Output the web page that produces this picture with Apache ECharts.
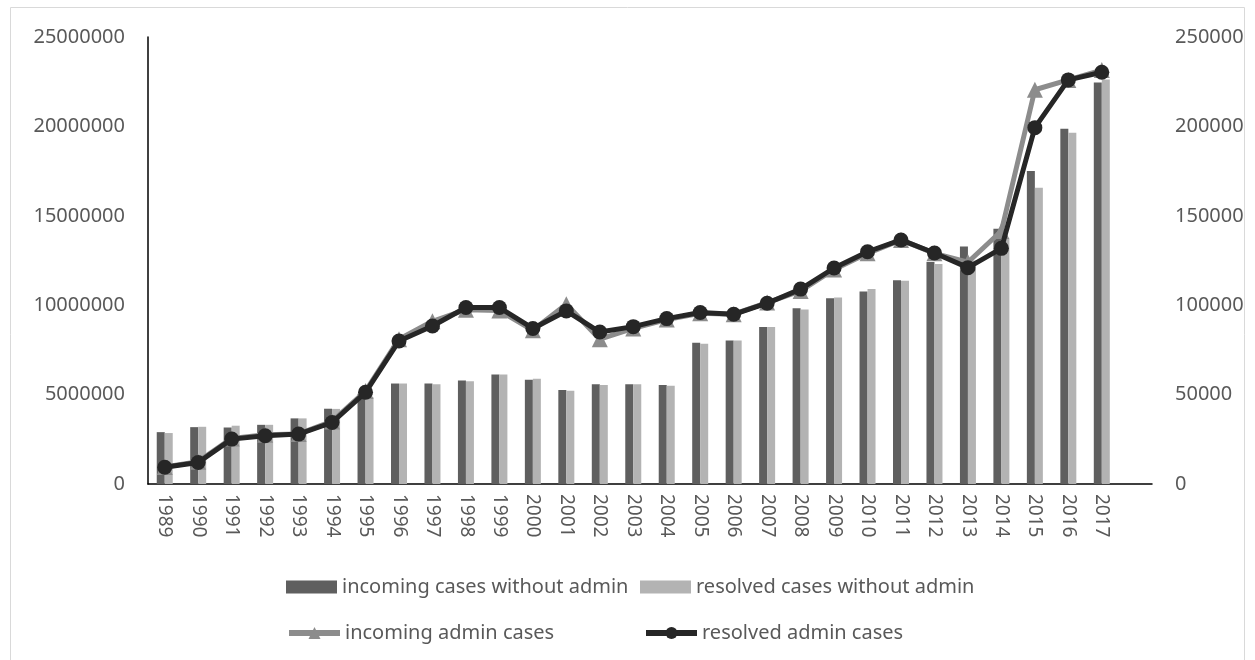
<!DOCTYPE html>
<html>
<head>
<meta charset="utf-8">
<script src="https://cdn.jsdelivr.net/npm/echarts@6/dist/echarts.min.js"></script>
<style>
  html, body { margin: 0; padding: 0; background: #fff; }
  #chart { width: 1255px; height: 660px; }
</style>
</head>
<body>
<div id="chart"></div>
<script>
// years (last slot is an empty category, as in the source sheet)
const years = ['1989', '1990', '1991', '1992', '1993', '1994', '1995', '1996', '1997', '1998',
  '1999', '2000', '2001', '2002', '2003', '2004', '2005', '2006', '2007', '2008',
  '2009', '2010', '2011', '2012', '2013', '2014', '2015', '2016', '2017', ''];

// left axis
const incomingNoAdmin = [2900000, 3180000, 3160000, 3310000, 3670000, 4210000, 5050000, 5620000, 5620000, 5790000,
  6120000, 5830000, 5260000, 5580000, 5580000, 5540000, 7900000, 8030000, 8780000, 9830000,
  10390000, 10770000, 11400000, 12420000, 13280000, 14270000, 17510000, 19870000, 22450000, null];
const resolvedNoAdmin = [2850000, 3200000, 3260000, 3310000, 3670000, 4200000, 4850000, 5620000, 5580000, 5750000,
  6120000, 5880000, 5220000, 5540000, 5580000, 5500000, 7850000, 8030000, 8780000, 9760000,
  10430000, 10900000, 11370000, 12300000, 12500000, 13710000, 16570000, 19650000, 22620000, null];

// right axis
const incomingAdmin = [9500, 12500, 25500, 27500, 28000, 35000, 52000, 81000, 91000, 97500,
  97000, 86000, 100500, 81000, 87000, 92000, 95500, 95000, 101500, 108000,
  120000, 129000, 136500, 129000, 124000, 141500, 220500, 226000, 231500, null];
const resolvedAdmin = [9400, 12000, 25100, 27000, 27900, 34400, 51300, 80000, 88400, 98700,
  98700, 87000, 96800, 85000, 88000, 92500, 95900, 94900, 101100, 109000,
  120800, 129900, 136500, 129200, 121000, 131800, 199300, 226000, 230300, null];

const leftTicks = [0, 25000000, 5000000];
const rightTicks = [0, 250000, 50000];

const txt = '#595959';
const font = 'Noto Sans';

const chart = echarts.init(document.getElementById('chart'));

const legendBox = (name, left, top, extra) => Object.assign({
  data: [name],
  left: left,
  top: top,
  padding: 0,
  itemWidth: 51,
  itemHeight: 13,
  itemGap: 0,
  textStyle: { color: txt, fontSize: 20, fontFamily: font }
}, extra || {});

chart.setOption({
  animation: false,
  graphic: [{
    type: 'rect',
    shape: { x: 10.5, y: 7.5, width: 1234, height: 700 },
    style: { fill: 'none', stroke: '#d9d9d9', lineWidth: 1 },
    z: -10
  }],
  grid: { left: 148, right: 103, top: 37, bottom: 176 },
  legend: [
    legendBox('incoming cases without admin', 286, 577, { icon: 'rect' }),
    legendBox('resolved cases without admin', 640, 577, { icon: 'rect' }),
    legendBox('incoming admin cases', 286, 623, { itemHeight: 15, lineStyle: { width: 6 } }),
    legendBox('resolved admin cases', 643, 623, { itemHeight: 15, lineStyle: { width: 6 } })
  ],
  xAxis: {
    type: 'category',
    data: years,
    axisLine: { lineStyle: { color: '#000', width: 1.5 } },
    axisTick: { show: false },
    axisLabel: { rotate: -90, margin: 10, color: txt, fontSize: 19, fontFamily: font, interval: 0 }
  },
  yAxis: [{
    type: 'value',
    min: leftTicks[0], max: leftTicks[1], interval: leftTicks[2],
    splitLine: { show: false },
    axisLine: { show: true, lineStyle: { color: '#000', width: 1.5 } },
    axisTick: { show: false },
    axisLabel: { color: txt, fontSize: 20, fontFamily: font, margin: 23, formatter: v => String(v) }
  }, {
    type: 'value',
    min: rightTicks[0], max: rightTicks[1], interval: rightTicks[2],
    splitLine: { show: false },
    axisLine: { show: false },
    axisTick: { show: false },
    axisLabel: { color: txt, fontSize: 20, fontFamily: font, margin: 23, formatter: v => String(v) }
  }],
  series: [
    {
      name: 'incoming cases without admin',
      type: 'bar',
      data: incomingNoAdmin,
      barWidth: 8,
      barGap: '0%',
      itemStyle: { color: '#5f5f5f' }
    },
    {
      name: 'resolved cases without admin',
      type: 'bar',
      data: resolvedNoAdmin,
      barWidth: 8,
      itemStyle: { color: '#b3b3b3' }
    },
    {
      name: 'incoming admin cases',
      type: 'line',
      yAxisIndex: 1,
      data: incomingAdmin,
      symbol: 'triangle',
      symbolSize: 16,
      lineStyle: { color: '#8c8c8c', width: 5 },
      itemStyle: { color: '#8c8c8c' },
      z: 3
    },
    {
      name: 'resolved admin cases',
      type: 'line',
      yAxisIndex: 1,
      data: resolvedAdmin,
      symbol: 'circle',
      symbolSize: 15,
      lineStyle: { color: '#262626', width: 5 },
      itemStyle: { color: '#262626' },
      z: 4
    }
  ]
});
</script>
</body>
</html>
